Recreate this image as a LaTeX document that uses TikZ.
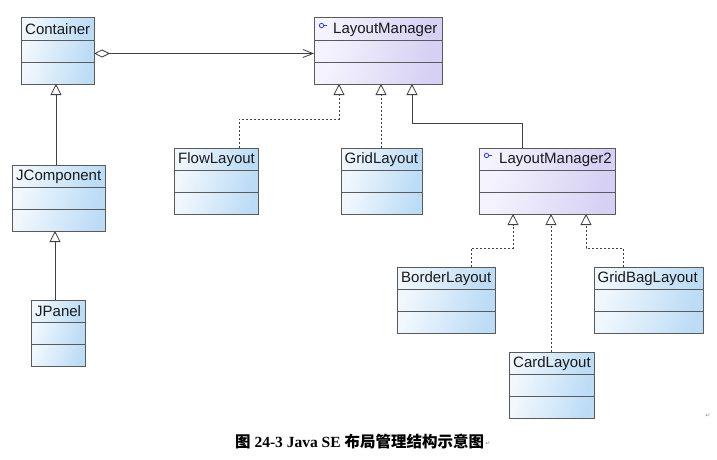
\documentclass[tikz,border=0pt]{standalone}
\usepackage{fontspec}
\setmainfont{Liberation Serif}
\setsansfont{Liberation Sans}
\newfontfamily\cjk{Noto Sans CJK SC}
\newfontfamily\symf{DejaVu Sans}
\usetikzlibrary{arrows.meta}
\definecolor{bLight}{HTML}{F0F7FD}
\definecolor{bDark}{HTML}{BCDCF6}
\definecolor{pLight}{HTML}{F5F3FD}
\definecolor{pDark}{HTML}{D6D1F4}
\definecolor{edge}{HTML}{5A5A5A}
\definecolor{conncol}{HTML}{404040}
\definecolor{icon}{HTML}{3344CC}
\tikzset{
  bluefill/.style={left color=bLight, right color=bDark, shading angle=70},
  lavfill/.style={left color=pLight, right color=pDark, shading angle=70},
  cls/.style={draw=edge, line width=1pt, minimum height=66pt, inner sep=0pt, outer sep=0pt},
  clsline/.style={draw=edge, line width=0.9pt},
  clstext/.style={font=\sffamily\fontsize{15}{18}\selectfont, inner sep=0pt, anchor=west, text=black!90},
  conn/.style={draw=conncol, line width=0.8pt},
  realize/.style={conn, dash pattern=on 2pt off 2pt},
  gen/.style={-{Triangle[open, length=11pt, width=11pt, fill=white]}},
}
% #1 name, #2 x, #3 y, #4 width, #5 fill style, #6 label, #7 text offset
\newcommand\umlclass[7]{%
  \shade[#5] (#2,#3) rectangle ++(#4,22);
  \shade[#5] (#2,{#3+22}) rectangle ++(#4,22);
  \shade[#5] (#2,{#3+44}) rectangle ++(#4,22);
  \node[cls, minimum width=#4pt, anchor=north west] (#1) at (#2,#3) {};
  \draw[clsline] (#2,{#3+22}) -- ++(#4,0) (#2,{#3+44}) -- ++(#4,0);
  \node[clstext] (#1-t) at ({#2+#7},{#3+11.5}) {#6};
}
\newcommand\ifaceicon[2]{%
  \draw[icon, line width=0.8pt] ({#1+7.5},{#2+7.5}) circle (2.2pt) ({#1+9.7},{#2+7.5}) -- ({#1+13},{#2+7.5});
}
\begin{document}
\begin{tikzpicture}[x=1pt, y=-1pt]
\useasboundingbox (0,0) rectangle (717,460);
\fill[white] (0,0) rectangle (717,460);

\umlclass{Container}{21}{18}{73}{bluefill}{Container}{4}
\umlclass{LM}{314}{18}{128}{lavfill}{LayoutManager}{19}
\ifaceicon{314}{18}
\umlclass{Flow}{174}{148}{84}{bluefill}{FlowLayout}{4}
\umlclass{Grid}{341}{148}{81}{bluefill}{GridLayout}{3.5}
\umlclass{LM2}{479}{148}{136}{lavfill}{LayoutManager2}{20}
\ifaceicon{479}{148}
\umlclass{Border}{397}{267}{98}{bluefill}{BorderLayout}{4}
\umlclass{GridBag}{594}{267}{109}{bluefill}{GridBagLayout}{3.5}
\umlclass{Card}{509}{352}{85}{bluefill}{CardLayout}{4}
\umlclass{JComp}{12}{165}{93}{bluefill}{JComponent}{4}
\umlclass{JPanel}{31}{300}{54}{bluefill}{JPanel}{4}

% aggregation
\draw[conn, {Diamond[open, length=16pt, width=8pt, fill=white]}-{Straight Barb[length=10pt, width=8pt]}]
  ([yshift=-2.5pt]Container.east) -- ([yshift=-2.5pt]LM.west);

% inheritance
\draw[conn, gen] ([xshift=44pt]JComp.north west) -- ([xshift=35pt]Container.south west);
\draw[conn, gen] ([xshift=24pt]JPanel.north west) -- ([xshift=43pt]JComp.south west);
\draw[conn, gen] ([xshift=43pt]LM2.north west) |- ([xshift=98pt, yshift=-39pt]LM.south west) -- ([xshift=98pt]LM.south west);

% realization
\draw[realize, gen] ([xshift=65pt]Flow.north west) |- ([xshift=25pt, yshift=-35pt]LM.south west) -- ([xshift=25pt]LM.south west);
\draw[realize, gen] ([xshift=40pt]Grid.north west) -- ([xshift=67pt]LM.south west);
\draw[realize, gen] ([xshift=74pt]Border.north west) |- ([xshift=34pt, yshift=-34pt]LM2.south west) -- ([xshift=34pt]LM2.south west);
\draw[realize, gen] ([xshift=42pt]Card.north west) -- ([xshift=72pt]LM2.south west);
\draw[realize, gen] ([xshift=29pt]GridBag.north west) |- ([xshift=107pt, yshift=-34pt]LM2.south west) -- ([xshift=107pt]LM2.south west);

% caption
\node[anchor=west, inner sep=0pt, font=\bfseries\fontsize{15.5}{18}\selectfont] (cap) at (235,442)
  {{\cjk 图} 24-3 Java SE {\cjk 布局管理结构示意图}};
\node[anchor=west, inner sep=0pt, text=black!45, font=\symf\fontsize{6}{7}\selectfont] (ret1) at ([xshift=1pt, yshift=-2pt]cap.east) {↵};
\node[inner sep=0pt, text=black!45, font=\symf\fontsize{6}{7}\selectfont] (ret2) at (708,416) {↵};
\end{tikzpicture}
\end{document}
